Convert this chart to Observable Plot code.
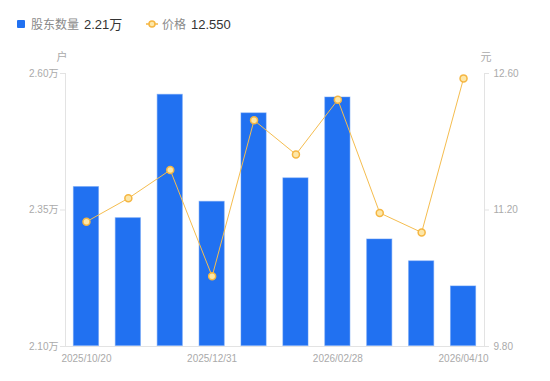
<!DOCTYPE html>
<html>
<head>
<meta charset="utf-8">
<script src="https://cdn.jsdelivr.net/npm/d3@7"></script>
<script src="https://cdn.jsdelivr.net/npm/@observablehq/plot@0.6"></script>
<style>
  html, body { margin: 0; padding: 0; background: #fff; }
  body { width: 550px; height: 381px; overflow: hidden; font-family: "Liberation Sans", "Noto Sans CJK SC", sans-serif; }
  #wrap { position: relative; width: 550px; height: 381px; }
  #legend { position: absolute; left: 0; top: 0; width: 550px; height: 40px; font-size: 12px; }
  #legend span { position: absolute; top: 17px; line-height: 16px; white-space: nowrap; }
  #chart { position: absolute; left: 0; top: 0; }
</style>
</head>
<body>
<div id="wrap">
  <div id="chart"></div>
  <div id="legend">
    <span style="left:17px;top:20px;width:8px;height:8px;background:#2171f1;border-radius:1px;"></span>
    <span style="left:31px;color:#8a8a8a;">股东数量</span>
    <span style="left:84px;color:#333;font-size:13px;">2.21万</span>
    <span style="left:146px;top:17px;">
      <svg width="12" height="14"><line x1="0" y1="7" x2="12" y2="7" stroke="#f5b642" stroke-width="1.5"/><circle cx="6" cy="7" r="3" fill="#fde7a8" stroke="#f5b642" stroke-width="1.5"/></svg>
    </span>
    <span style="left:162px;color:#8a8a8a;">价格</span>
    <span style="left:191px;color:#333;font-size:13px;">12.550</span>
  </div>
</div>
<script>
const dates = ["2025/10/20","2025/10/31","2025/11/28","2025/12/31","2026/01/09","2026/01/30","2026/02/28","2026/03/10","2026/03/31","2026/04/10"];
const holders = [2.392, 2.335, 2.561, 2.365, 2.527, 2.408, 2.556, 2.296, 2.256, 2.210]; // 万户
const prices = [11.08, 11.32, 11.61, 10.52, 12.12, 11.77, 12.33, 11.17, 10.97, 12.55]; // 元
const xTickLabels = ["2025/10/20","2025/12/31","2026/02/28","2026/04/10"];
const leftTicks = [2.10, 2.35, 2.60];
const rightTicks = [9.80, 11.20, 12.60];

const leftDomain = [2.10, 2.60];
const rightDomain = [9.80, 12.60];
const toLeft = p => leftDomain[0] + (p - rightDomain[0]) / (rightDomain[1] - rightDomain[0]) * (leftDomain[1] - leftDomain[0]);
const toRight = v => rightDomain[0] + (v - leftDomain[0]) / (leftDomain[1] - leftDomain[0]) * (rightDomain[1] - rightDomain[0]);

const data = dates.map((d, i) => ({date: d, holders: holders[i], price: prices[i], py: toLeft(prices[i])}));

const axisColor = "#e3e3e3";
const textColor = "#aaaaaa";

const chart = Plot.plot({
  width: 550,
  height: 381,
  marginTop: 73,
  marginBottom: 35,
  marginLeft: 65,
  marginRight: 66,
  style: {fontFamily: "'Liberation Sans', 'Noto Sans CJK SC', sans-serif", fontSize: "10px", background: "transparent", overflow: "visible"},
  x: {type: "band", domain: dates, paddingInner: 0.4, paddingOuter: 0.2, round: false},
  y: {domain: leftDomain},
  marks: [
    Plot.frame({anchor: "left", stroke: axisColor}),
    Plot.frame({anchor: "right", stroke: axisColor}),
    Plot.ruleY([leftDomain[0]], {stroke: axisColor}),
    Plot.barY(data, {x: "date", y1: leftDomain[0], y2: "holders", fill: "#2171f1", stroke: "#5d97f5", strokeWidth: 1, strokeOpacity: 0.5, insetBottom: 0.5}),
    Plot.axisY({ticks: leftTicks, tickFormat: d => d.toFixed(2) + "万", tickSize: 5, tickPadding: 2, stroke: axisColor, color: textColor, label: null}),
    Plot.axisY({anchor: "right", ticks: rightTicks.map(toLeft), tickFormat: v => toRight(v).toFixed(2), tickSize: 4, tickPadding: 5, stroke: axisColor, color: textColor, label: null}),
    Plot.axisX({ticks: xTickLabels, tickSize: 0, tickPadding: 8, color: textColor, label: null}),
    Plot.text(["户"], {frameAnchor: "top-left", dx: -9, dy: -20, fill: textColor, fontSize: 11}),
    Plot.text(["元"], {frameAnchor: "top-right", dx: 7, dy: -20, fill: textColor, fontSize: 11}),
    Plot.line(data, {x: "date", y: "py", stroke: "#f5bd4f", strokeWidth: 1}),
    Plot.dot(data, {x: "date", y: "py", r: 3.5, fill: "#fde7a8", stroke: "#f5b642", strokeWidth: 1.5})
  ]
});
document.getElementById("chart").appendChild(chart);
</script>
</body>
</html>
